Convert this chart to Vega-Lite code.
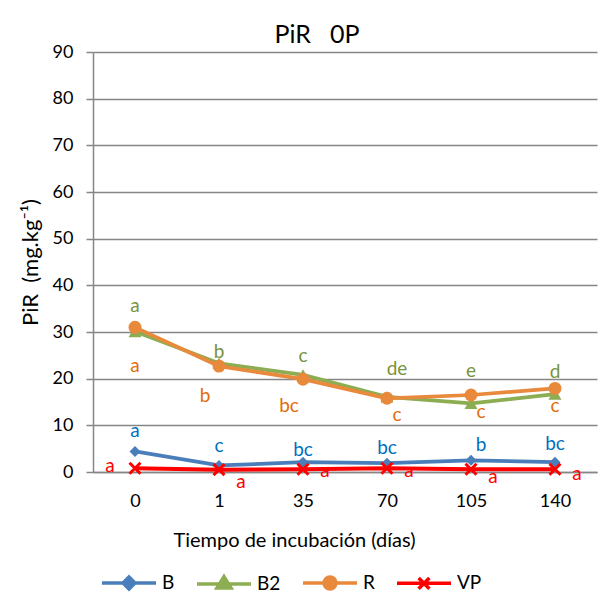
{
  "$schema": "https://vega.github.io/schema/vega-lite/v6.json",
  "width": 504,
  "height": 420,
  "autosize": {"type": "none"},
  "padding": {"left": 93, "top": 52, "right": 1, "bottom": 130},
  "background": "white",
  "config": {
    "font": "Lato",
    "view": {"stroke": null}
  },
  "title": {
    "text": "PiR\u00a0\u00a0\u00a00P",
    "font": "Lato",
    "fontSize": 25,
    "fontWeight": "normal",
    "color": "#000000",
    "offset": 4,
    "dy": 9,
    "dx": -28
  },
  "datasets": {
    "puntos": [
      {"serie": "B", "tiempo": 0, "valor": 4.4},
      {"serie": "B", "tiempo": 1, "valor": 1.4},
      {"serie": "B", "tiempo": 35, "valor": 2.1},
      {"serie": "B", "tiempo": 70, "valor": 1.9},
      {"serie": "B", "tiempo": 105, "valor": 2.5},
      {"serie": "B", "tiempo": 140, "valor": 2.1},
      {"serie": "B2", "tiempo": 0, "valor": 30.1},
      {"serie": "B2", "tiempo": 1, "valor": 23.3},
      {"serie": "B2", "tiempo": 35, "valor": 20.8},
      {"serie": "B2", "tiempo": 70, "valor": 16.1},
      {"serie": "B2", "tiempo": 105, "valor": 14.7},
      {"serie": "B2", "tiempo": 140, "valor": 16.7},
      {"serie": "R", "tiempo": 0, "valor": 31.0},
      {"serie": "R", "tiempo": 1, "valor": 22.7},
      {"serie": "R", "tiempo": 35, "valor": 19.9},
      {"serie": "R", "tiempo": 70, "valor": 15.8},
      {"serie": "R", "tiempo": 105, "valor": 16.5},
      {"serie": "R", "tiempo": 140, "valor": 17.9},
      {"serie": "VP", "tiempo": 0, "valor": 0.8},
      {"serie": "VP", "tiempo": 1, "valor": 0.5},
      {"serie": "VP", "tiempo": 35, "valor": 0.6},
      {"serie": "VP", "tiempo": 70, "valor": 0.8},
      {"serie": "VP", "tiempo": 105, "valor": 0.6},
      {"serie": "VP", "tiempo": 140, "valor": 0.6}
    ],
    "letras": [
      {"serie": "B2", "tiempo": 0, "letra": "a", "pos": 34.3, "lado": "c"},
      {"serie": "B2", "tiempo": 1, "letra": "b", "pos": 24.4, "lado": "c"},
      {"serie": "B2", "tiempo": 35, "letra": "c", "pos": 23.6, "lado": "c"},
      {"serie": "B2", "tiempo": 70, "letra": "de", "pos": 20.8, "lado": "r1"},
      {"serie": "B2", "tiempo": 105, "letra": "e", "pos": 20.4, "lado": "c"},
      {"serie": "B2", "tiempo": 140, "letra": "d", "pos": 20.1, "lado": "c"},
      {"serie": "R", "tiempo": 0, "letra": "a", "pos": 21.4, "lado": "c"},
      {"serie": "R", "tiempo": 1, "letra": "b", "pos": 15.0, "lado": "l1"},
      {"serie": "R", "tiempo": 35, "letra": "bc", "pos": 12.9, "lado": "l1"},
      {"serie": "R", "tiempo": 70, "letra": "c", "pos": 10.9, "lado": "r1"},
      {"serie": "R", "tiempo": 105, "letra": "c", "pos": 11.6, "lado": "r1"},
      {"serie": "R", "tiempo": 140, "letra": "c", "pos": 12.9, "lado": "c"},
      {"serie": "B", "tiempo": 0, "letra": "a", "pos": 7.5, "lado": "c"},
      {"serie": "B", "tiempo": 1, "letra": "c", "pos": 4.3, "lado": "c"},
      {"serie": "B", "tiempo": 35, "letra": "bc", "pos": 3.4, "lado": "c"},
      {"serie": "B", "tiempo": 70, "letra": "bc", "pos": 3.9, "lado": "c"},
      {"serie": "B", "tiempo": 105, "letra": "b", "pos": 4.5, "lado": "r1"},
      {"serie": "B", "tiempo": 140, "letra": "bc", "pos": 4.7, "lado": "c"},
      {"serie": "VP", "tiempo": 0, "letra": "a", "pos": 0.0, "lado": "l2"},
      {"serie": "VP", "tiempo": 1, "letra": "a", "pos": -3.4, "lado": "r2"},
      {"serie": "VP", "tiempo": 35, "letra": "a", "pos": -1.1, "lado": "r2"},
      {"serie": "VP", "tiempo": 70, "letra": "a", "pos": -1.1, "lado": "r2"},
      {"serie": "VP", "tiempo": 105, "letra": "a", "pos": -2.4, "lado": "r2"},
      {"serie": "VP", "tiempo": 140, "letra": "a", "pos": -1.7, "lado": "r2"}
    ]
  },
  "data": {"name": "puntos"},
  "encoding": {
    "x": {
      "field": "tiempo",
      "type": "ordinal",
      "scale": {"type": "point", "padding": 0.5},
      "axis": {
        "title": "Tiempo de incubación (días)",
        "labelAngle": 0,
        "ticks": false,
        "grid": false,
        "domainColor": "#868686",
        "domainWidth": 1.5,
        "labelFontSize": 18,
        "labelColor": "#000000",
        "labelPadding": 20,
        "titleFontSize": 20,
        "titleFontWeight": "normal",
        "titleColor": "#000000",
        "titleX": 201,
        "titleY": 74,
        "titleBaseline": "alphabetic"
      }
    },
    "y": {
      "field": "valor",
      "type": "quantitative",
      "scale": {"domain": [0, 90], "nice": false},
      "axis": {
        "title": "PiR\u00a0\u00a0(mg.kg⁻¹)",
        "values": [0, 10, 20, 30, 40, 50, 60, 70, 80, 90],
        "grid": true,
        "gridColor": "#868686",
        "gridWidth": 1.5,
        "domainColor": "#868686",
        "domainWidth": 1.5,
        "tickColor": "#868686",
        "tickWidth": 1.5,
        "tickSize": 7,
        "labelFontSize": 18,
        "labelColor": "#000000",
        "labelPadding": 13,
        "titleFontSize": 22,
        "titleFontWeight": "normal",
        "titleColor": "#000000",
        "titlePadding": 10
      }
    }
  },
  "layer": [
    {
      "transform": [{"filter": "datum.serie === 'B'"}],
      "mark": {"type": "line", "color": "#4A7EBB", "strokeWidth": 3.75,
        "point": {"shape": "diamond", "filled": true, "size": 121, "color": "#4A7EBB"}}
    },
    {
      "transform": [{"filter": "datum.serie === 'B2'"}],
      "mark": {"type": "line", "color": "#8CAD52", "strokeWidth": 3.75,
        "point": {"shape": "triangle-up", "filled": true, "size": 169, "color": "#8CAD52"}}
    },
    {
      "transform": [{"filter": "datum.serie === 'R'"}],
      "mark": {"type": "line", "color": "#E8893C", "strokeWidth": 3.75,
        "point": {"shape": "circle", "filled": true, "size": 169, "color": "#E8893C"}}
    },
    {
      "transform": [{"filter": "datum.serie === 'VP'"}],
      "mark": {"type": "line", "color": "#FF0000", "strokeWidth": 4,
        "point": {"shape": "M-1,-1L1,1M-1,1L1,-1", "filled": false, "size": 121, "strokeWidth": 3, "color": "#FF0000"}}
    },
    {
      "mark": {"type": "point", "filled": true, "opacity": 0, "size": 2916},
      "encoding": {
        "fill": {
          "field": "serie", "type": "nominal",
          "scale": {"domain": ["B", "B2", "R", "VP"], "range": ["#4A7EBB", "#8CAD52", "#E8893C", "#FF0000"]},
          "legend": {
            "orient": "none", "legendX": 7, "legendY": 502, "direction": "horizontal", "title": null,
            "padding": 0, "labelFontSize": 19, "labelColor": "#000000", "labelOffset": 4, "columnPadding": 15,
            "symbolSize": 2916, "symbolStrokeWidth": 3.5, "symbolOpacity": 1, "symbolOffset": 0
          }
        },
        "stroke": {
          "field": "serie", "type": "nominal",
          "scale": {"domain": ["B", "B2", "R", "VP"], "range": ["#4A7EBB", "#8CAD52", "#E8893C", "#FF0000"]},
          "legend": {
            "orient": "none", "legendX": 7, "legendY": 502, "direction": "horizontal", "title": null,
            "padding": 0, "labelFontSize": 19, "labelColor": "#000000", "labelOffset": 4, "columnPadding": 15,
            "symbolSize": 2916, "symbolStrokeWidth": 3.5, "symbolOpacity": 1, "symbolOffset": 0
          }
        },
        "shape": {
          "field": "serie", "type": "nominal",
          "scale": {
            "domain": ["B", "B2", "R", "VP"],
            "range": [
              "M-1,0H1M0,-0.22L0.22,0L0,0.22L-0.22,0Z",
              "M-1,0H1M0,-0.28L0.26,0.14L-0.26,0.14Z",
              "M-1,0H1M0.22,0A0.22,0.22,0,1,1,-0.22,0A0.22,0.22,0,1,1,0.22,0Z",
              "M-1,0H1M-0.2,-0.2L0.2,0.2M-0.2,0.2L0.2,-0.2"
            ]
          },
          "legend": {
            "orient": "none", "legendX": 7, "legendY": 502, "direction": "horizontal", "title": null,
            "padding": 0, "labelFontSize": 19, "labelColor": "#000000", "labelOffset": 4, "columnPadding": 15,
            "symbolSize": 2916, "symbolStrokeWidth": 3.5, "symbolOpacity": 1, "symbolOffset": 0
          }
        }
      }
    },
    {
      "data": {"name": "letras"},
      "transform": [{"filter": "datum.lado === 'c'"}],
      "mark": {"type": "text", "fontSize": 19, "baseline": "alphabetic", "align": "center", "dx": 0},
      "encoding": {
        "y": {"field": "pos", "type": "quantitative"},
        "text": {"field": "letra"},
        "color": {"field": "serie", "type": "nominal", "legend": null,
          "scale": {"domain": ["B", "B2", "R", "VP"], "range": ["#0070C0", "#77933C", "#E46C0A", "#FF0000"]}}
      }
    },
    {
      "data": {"name": "letras"},
      "transform": [{"filter": "datum.lado === 'r1'"}],
      "mark": {"type": "text", "fontSize": 19, "baseline": "alphabetic", "align": "center", "dx": 10},
      "encoding": {
        "y": {"field": "pos", "type": "quantitative"},
        "text": {"field": "letra"},
        "color": {"field": "serie", "type": "nominal", "legend": null}
      }
    },
    {
      "data": {"name": "letras"},
      "transform": [{"filter": "datum.lado === 'r2'"}],
      "mark": {"type": "text", "fontSize": 19, "baseline": "alphabetic", "align": "center", "dx": 22},
      "encoding": {
        "y": {"field": "pos", "type": "quantitative"},
        "text": {"field": "letra"},
        "color": {"field": "serie", "type": "nominal", "legend": null}
      }
    },
    {
      "data": {"name": "letras"},
      "transform": [{"filter": "datum.lado === 'l1'"}],
      "mark": {"type": "text", "fontSize": 19, "baseline": "alphabetic", "align": "center", "dx": -14},
      "encoding": {
        "y": {"field": "pos", "type": "quantitative"},
        "text": {"field": "letra"},
        "color": {"field": "serie", "type": "nominal", "legend": null}
      }
    },
    {
      "data": {"name": "letras"},
      "transform": [{"filter": "datum.lado === 'l2'"}],
      "mark": {"type": "text", "fontSize": 19, "baseline": "alphabetic", "align": "center", "dx": -25},
      "encoding": {
        "y": {"field": "pos", "type": "quantitative"},
        "text": {"field": "letra"},
        "color": {"field": "serie", "type": "nominal", "legend": null}
      }
    }
  ]
}
